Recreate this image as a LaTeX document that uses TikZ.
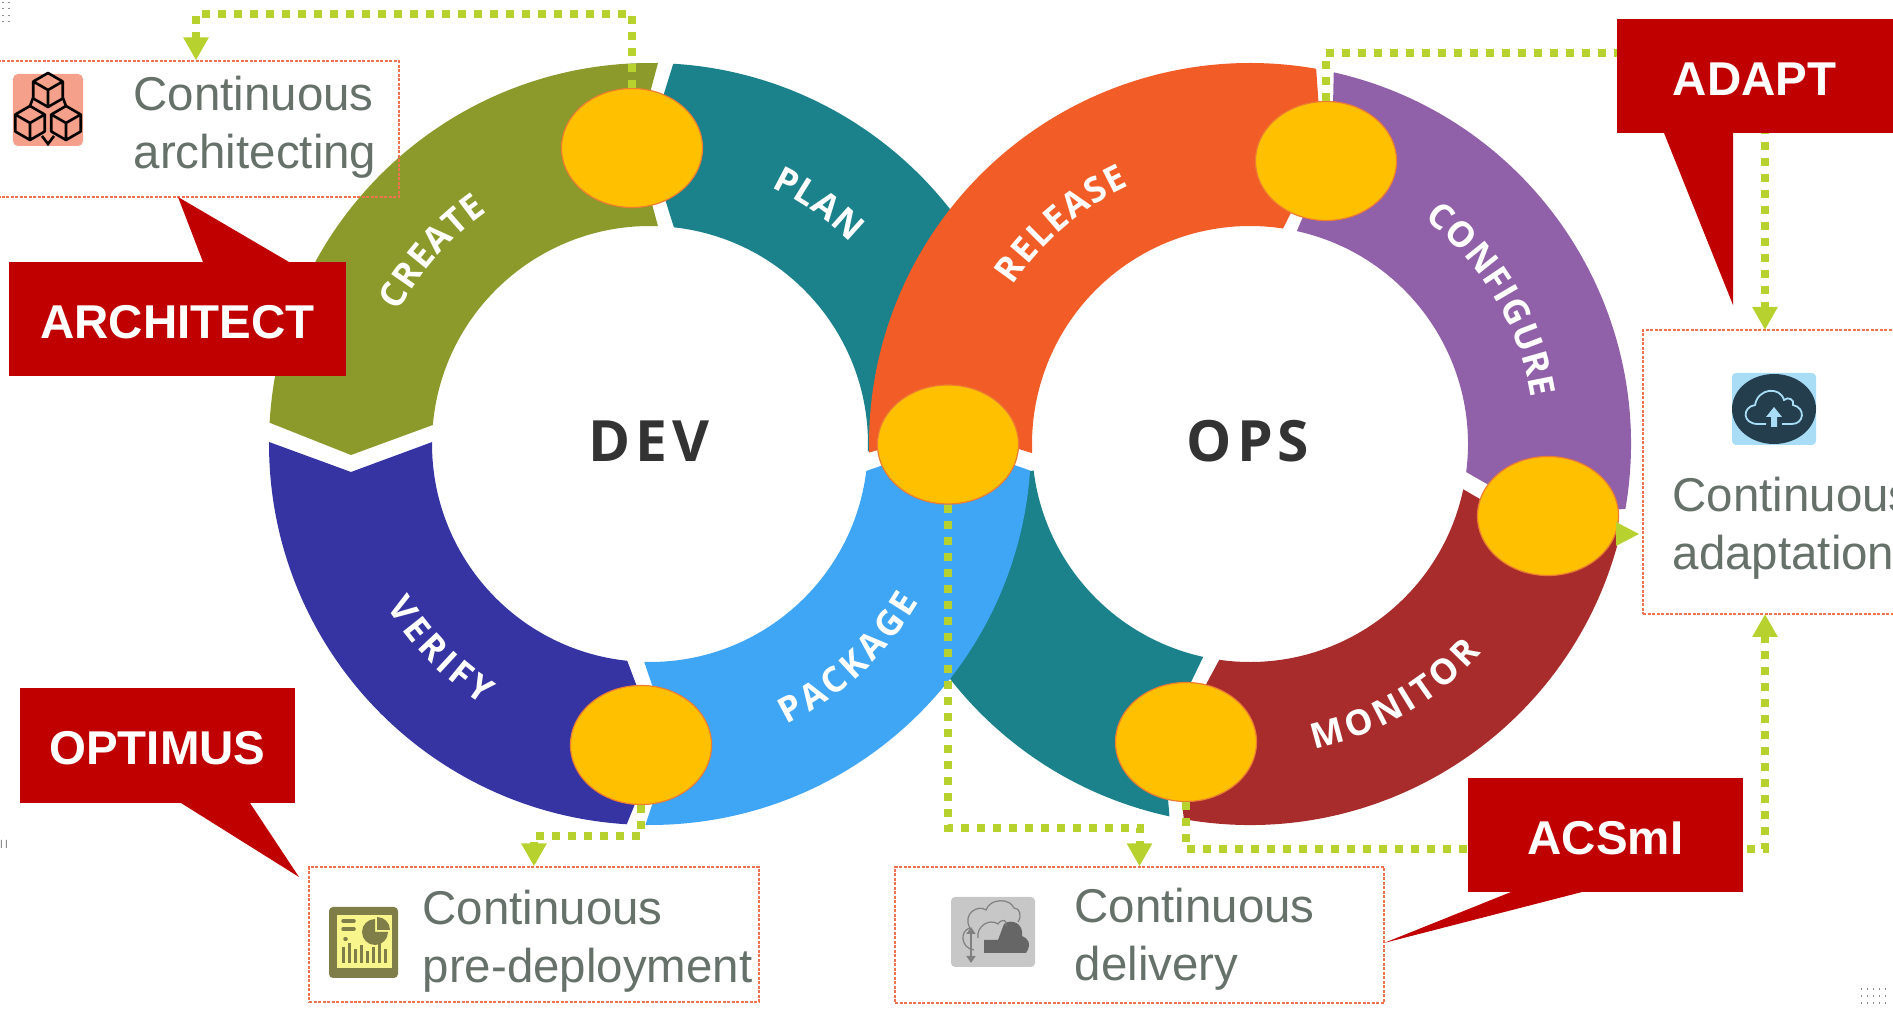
\documentclass[tikz,border=0pt]{standalone}
\usepackage{fontspec}
\setmainfont{Liberation Sans}
\newfontfamily\segfont{Open Sans}[LetterSpace=9]
\usetikzlibrary{shapes.geometric,arrows.meta,decorations.text}
\definecolor{olive1}{RGB}{140,154,43}
\definecolor{teal1}{RGB}{27,130,140}
\definecolor{orange1}{RGB}{242,92,38}
\definecolor{purple1}{RGB}{144,96,168}
\definecolor{navy1}{RGB}{54,52,163}
\definecolor{sky1}{RGB}{63,165,245}
\definecolor{brick1}{RGB}{169,44,44}
\definecolor{spot}{RGB}{255,192,0}
\definecolor{spotline}{RGB}{237,125,49}
\definecolor{flowgreen}{RGB}{183,210,47}
\definecolor{tagred}{RGB}{192,0,0}
\definecolor{boxline}{RGB}{240,115,80}
\definecolor{textgrey}{RGB}{102,113,106}
\definecolor{iconpink}{RGB}{244,160,138}
\definecolor{iconsky}{RGB}{168,221,245}
\definecolor{icondark}{RGB}{36,62,78}
\definecolor{iconolive}{RGB}{127,125,72}
\definecolor{iconyellow}{RGB}{248,245,140}
\newcommand{\ringlabel}{\color{white}\segfont\bfseries\fontsize{10}{12}\selectfont}
\tikzset{
  spotnode/.style={ellipse,fill=spot,draw=spotline,line width=0.012cm,minimum width=1.41cm,minimum height=1.19cm,inner sep=0},
  flow/.style={draw=flowgreen,line width=0.08cm,dash pattern=on 0.08cm off 0.08cm},
  flowend/.style={flow,-{Triangle[length=0.23cm,width=0.24cm,fill=flowgreen]}},
  dashbox/.style={rectangle,draw=boxline,line width=0.012cm,dash pattern=on 0.03cm off 0.015cm,inner sep=0},
  boxtext/.style={anchor=west,align=left,inner sep=0,text=textgrey,font=\fontsize{13.5}{16.5}\selectfont},
  tag/.style={rectangle,fill=tagred,text=white,inner sep=0,text height=0.39cm,text depth=0cm,font=\fontsize{13.5}{16}\selectfont\bfseries},
  ringtext/.style={decorate,decoration={text along path,text align={fit to path},text={|\ringlabel|#1}}},
  hubtext/.style={inner sep=0,text=black!80,font=\segfont\bfseries\fontsize{16.2}{20}\selectfont},
  cube/.pic={\draw[line width=0.026cm,line join=round] (90:0.17)--(150:0.17)--(210:0.17)--(270:0.17)--(330:0.17)--(30:0.17)--cycle (150:0.17)--(0,0)--(30:0.17) (0,0)--(270:0.17);}
}

\begin{document}
\begin{tikzpicture}
    \useasboundingbox (0,0) rectangle (18.93,10.10);
    \coordinate (dev) at (6.50,5.66);
    \coordinate (ops) at (12.50,5.66);

    % Segments of the two rings
    \fill[teal1] ([shift={(dev)}]86.5:3.81) arc[start angle=86.5,end angle=10,radius=3.81] -- ([shift={(dev)}]-2:2.18) arc[start angle=-2,end angle=83.7,radius=2.18] -- (6.48,8.65) -- cycle;
    \fill[teal1] ([shift={(ops)}]187:2.18) arc[start angle=187,end angle=257.6,radius=2.18] -- (11.63,2.70) -- ([shift={(ops)}]257.8:3.81) arc[start angle=257.8,end angle=187,radius=3.81] -- cycle;
    \fill[orange1] ([shift={(ops)}]181.3:3.81) arc[start angle=181.3,end angle=80,radius=3.81] -- (13.22,8.58) -- ([shift={(ops)}]81.3:2.18) arc[start angle=81.3,end angle=182.4,radius=2.18] -- (9.50,5.82) -- cycle;
    \fill[sky1] ([shift={(dev)}]268.5:2.18) arc[start angle=268.5,end angle=352.9,radius=2.18] -- (9.50,5.68) -- ([shift={(dev)}]356:3.81) arc[start angle=356,end angle=269.3,radius=3.81] -- (6.72,2.65) -- cycle;
    \fill[olive1] ([shift={(dev)}]176.8:3.81) arc[start angle=176.8,end angle=88.8,radius=3.81] -- (6.36,8.65) -- ([shift={(dev)}]87.9:2.18) arc[start angle=87.9,end angle=175,radius=2.18] -- (3.51,5.55) -- cycle;
    \fill[navy1] ([shift={(dev)}]179.7:3.81) arc[start angle=179.7,end angle=266.5,radius=3.81] -- (6.59,2.65) -- ([shift={(dev)}]264:2.18) arc[start angle=264,end angle=179.5,radius=2.18] -- (3.51,5.38) -- cycle;
    \fill[purple1] ([shift={(ops)}]77.3:3.81) arc[start angle=77.3,end angle=-9.8,radius=3.81] -- (15.43,4.94) -- ([shift={(ops)}]-7.4:2.18) arc[start angle=-7.4,end angle=77.6,radius=2.18] -- (13.32,8.60) -- cycle;
    \fill[brick1] ([shift={(ops)}]-13:3.81) arc[start angle=-13,end angle=-100,radius=3.81] -- (11.75,2.68) -- ([shift={(ops)}]-98.1:2.18) arc[start angle=-98.1,end angle=-12,radius=2.18] -- (15.40,4.76) -- cycle;

    % Ring labels
    \path[ringtext=CREATE] ([shift={(dev)}]152.3:2.84) arc[start angle=152.3,end angle=125,radius=2.84];
    \path[ringtext=PLAN] ([shift={(dev)}]64.7:2.84) arc[start angle=64.7,end angle=45.2,radius=2.84];
    \path[ringtext=RELEASE] ([shift={(ops)}]146.3:2.85) arc[start angle=146.3,end angle=115,radius=2.85];
    \path[ringtext=CONFIGURE] ([shift={(ops)}]52.2:2.85) arc[start angle=52.2,end angle=9.3,radius=2.85];
    \path[ringtext=VERIFY] ([shift={(dev)}]211.7:3.10) arc[start angle=211.7,end angle=237.3,radius=3.10];
    \path[ringtext=PACKAGE] ([shift={(dev)}]-64:3.12) arc[start angle=-64,end angle=-30.4,radius=3.12];
    \path[ringtext=MONITOR] ([shift={(ops)}]-78:3.12) arc[start angle=-78,end angle=-42,radius=3.12];
    \node[hubtext] (devlabel) at (6.49,5.69) {DEV};
    \node[hubtext] (opslabel) at (12.48,5.69) {OPS};

    % Boxes
    \node[dashbox,minimum width=4.06cm,minimum height=1.36cm] (b1) at (1.96,8.81) {};
    \node[dashbox,minimum width=2.77cm,minimum height=2.84cm] (b2) at (17.815,5.38) {};
    \node[dashbox,minimum width=4.50cm,minimum height=1.35cm] (b3) at (5.34,0.755) {};
    \node[dashbox,minimum width=4.89cm,minimum height=1.36cm] (b4) at (11.395,0.75) {};
    \coordinate (j1) at (17.65,6.80);
    \coordinate (j2) at (17.65,3.96);
    \coordinate (j3) at (16.39,4.76);

    \node[spotnode] (s1) at (6.32,8.62) {};
    \node[spotnode] (s2) at (13.26,8.49) {};
    \node[spotnode] (s3) at (9.48,5.655) {};
    \node[spotnode] (s4) at (15.48,4.94) {};
    \node[spotnode] (s5) at (6.41,2.65) {};
    \node[spotnode] (s6) at (11.86,2.68) {};

    % Flows
    \draw[flowend] (s1.north) -- (6.32,9.96) -- (1.96,9.96) -- (b1.north);
    \draw[flowend] (s2.north) -- (13.26,9.57) -- (17.65,9.57) -- (j1);
    \draw[flowend] (s5.south) -- (6.41,1.74) -- (5.34,1.74) -- (b3.north);
    \draw[flowend] (s3.south) -- (9.48,1.82) -- (11.395,1.82) -- (b4.north);
    \draw[flowend] (s6.south) -- (11.86,1.61) -- (17.65,1.61) -- (j2);
    \fill[flowgreen] (j3) -- (16.16,4.88) -- (16.16,4.64) -- cycle;

    % Box texts
    \node[boxtext] (t1) at (1.33,8.825) {Continuous\\architecting};
    \node[boxtext] (t2) at (16.72,4.82) {Continuous\\adaptation};
    \node[boxtext] (t3) at (4.22,0.69) {Continuous\\pre-deployment};
    \node[boxtext] (t4) at (10.74,0.71) {Continuous\\delivery};

    % Callouts
    \fill[tagred] (2.03,7.48) -- (1.78,8.13) -- (2.89,7.48) -- cycle;
    \node[tag,minimum width=3.37cm,minimum height=1.14cm] (architect) at (1.775,6.91) {ARCHITECT};
    \fill[tagred] (16.64,8.77) -- (17.33,7.05) -- (17.33,8.77) -- cycle;
    \node[tag,minimum width=2.76cm,minimum height=1.14cm] (adapt) at (17.545,9.34) {ADAPT};
    \fill[tagred] (1.81,2.07) -- (2.99,1.33) -- (2.50,2.07) -- cycle;
    \node[tag,minimum width=2.75cm,minimum height=1.15cm] (optimus) at (1.575,2.645) {OPTIMUS};
    \fill[tagred] (15.11,1.18) -- (13.84,0.67) -- (15.82,1.18) -- cycle;
    \node[tag,minimum width=2.75cm,minimum height=1.14cm] (acsmi) at (16.055,1.75) {ACSmI};

    % Icons
    \node[fill=iconpink,rounded corners=0.05cm,minimum width=0.70cm,minimum height=0.72cm,inner sep=0] (i1) at (0.48,9.00) {};
    \pic at (0.48,9.20) {cube};
    \pic at (0.30,8.87) {cube};
    \pic at (0.66,8.87) {cube};
    \draw[line width=0.026cm] (0.33,9.12) -- (0.30,9.04) (0.63,9.12) -- (0.66,9.04) (0.42,8.74) -- (0.48,8.66) -- (0.54,8.74);

    \node[fill=iconsky,rounded corners=0.04cm,minimum width=0.84cm,minimum height=0.72cm,inner sep=0] (i2) at (17.74,6.01) {};
    \node[ellipse,fill=icondark,minimum width=0.84cm,minimum height=0.70cm,inner sep=0] (i2b) at (17.74,6.01) {};
    \draw[iconsky,line width=0.018cm] (17.58,5.86) .. controls (17.42,5.86) and (17.42,6.03) .. (17.55,6.05) .. controls (17.58,6.22) and (17.80,6.24) .. (17.84,6.10) .. controls (17.88,6.14) and (17.95,6.10) .. (17.93,6.05) .. controls (18.06,6.02) and (18.04,5.86) .. (17.92,5.86) -- (17.82,5.86) (17.66,5.86) -- (17.58,5.86);
    \fill[iconsky] (17.71,5.83) rectangle (17.77,5.93) (17.66,5.93) -- (17.74,6.03) -- (17.82,5.93) -- cycle;

    \node[fill=iconolive,rounded corners=0.04cm,minimum width=0.69cm,minimum height=0.71cm,inner sep=0] (i3) at (3.635,0.675) {};
    \node[fill=iconyellow,minimum width=0.55cm,minimum height=0.53cm,inner sep=0] (i3b) at (3.645,0.685) {};
    \fill[iconolive] (3.75,0.78) -- (3.75,0.91) arc[start angle=90,end angle=360,radius=0.13] -- cycle;
    \fill[iconolive] (3.77,0.80) -- (3.90,0.80) arc[start angle=0,end angle=90,radius=0.13] -- cycle;
    \draw[iconolive,line width=0.035cm,line cap=round] (3.43,0.89) -- (3.54,0.89) (3.43,0.81) -- (3.54,0.81) (3.45,0.71) -- (3.46,0.71);
    \foreach \x/\h in {3.43/0.16,3.49/0.2,3.55/0.14,3.61/0.18,3.67/0.12,3.73/0.16,3.79/0.2,3.85/0.14}
        \draw[iconolive,line width=0.03cm] (\x,0.47) -- ++(0,\h);

    \node[fill=black!22,rounded corners=0.04cm,minimum width=0.84cm,minimum height=0.70cm,inner sep=0] (i4) at (9.93,0.78) {};
    \fill[black!60] (9.84,0.57) -- (10.26,0.57) .. controls (10.32,0.66) and (10.28,0.72) .. (10.22,0.74) .. controls (10.24,0.86) and (10.12,0.92) .. (10.04,0.86) -- (9.98,0.70) -- (9.84,0.70) -- cycle;
    \draw[black!50,line width=0.012cm] (9.74,0.60) .. controls (9.60,0.62) and (9.60,0.80) .. (9.70,0.82) .. controls (9.62,0.96) and (9.78,1.06) .. (9.86,1.00) .. controls (9.90,1.12) and (10.10,1.12) .. (10.14,1.02) .. controls (10.20,1.02) and (10.22,0.94) .. (10.18,0.88);
    \draw[black!50,line width=0.012cm] (9.78,0.72) .. controls (9.76,0.84) and (9.90,0.92) .. (9.98,0.86) .. controls (10.02,0.92) and (10.08,0.90) .. (10.06,0.84);
    \draw[black!50,line width=0.014cm,{Triangle[length=0.07cm,width=0.09cm]}-{Triangle[length=0.07cm,width=0.09cm]}] (9.71,0.47) -- (9.71,0.83);

    % Specks
    \foreach \x in {0.02,0.08}
        \foreach \y in {10.07,10.01,9.94,9.88}
            \fill[black!45] (\x,\y) rectangle ++(0.02,0.01);
    \foreach \x in {18.61,18.67,18.73,18.79,18.85}
        \foreach \y in {0.20,0.13,0.06}
            \fill[black!45] (\x,\y) rectangle ++(0.01,0.02);
    \fill[black!45] (0.01,1.62) rectangle ++(0.01,0.08) (0.06,1.62) rectangle ++(0.01,0.08);
\end{tikzpicture}
\end{document}
